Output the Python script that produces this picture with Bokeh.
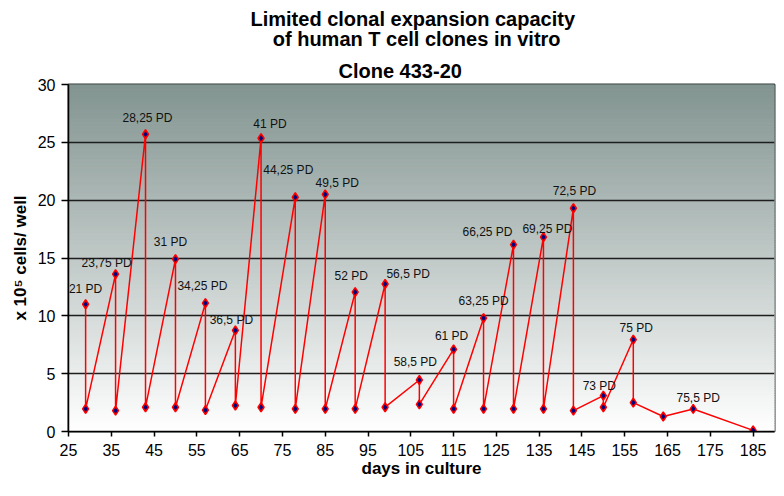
import numpy as np
from bokeh.plotting import figure
from bokeh.models import Range1d, FixedTicker, Title, ColumnDataSource
from bokeh.core.properties import value
from bokeh.embed import file_html
from bokeh.resources import INLINE

# ---- data ----
days = [29, 29, 36, 36, 43, 43, 50, 50, 57, 57, 64, 64, 70, 70, 78, 78, 85, 85,
        92, 92, 99, 99, 107, 107, 115, 115, 122, 122, 129, 129, 136, 136, 143, 143,
        150, 150, 157, 157, 164, 171, 185]
cells = [11.0, 1.95, 13.6, 1.8, 25.7, 2.1, 14.9, 2.1, 11.1, 1.85, 8.75, 2.25,
         25.35, 2.1, 20.25, 1.95, 20.5, 1.95, 12.05, 1.95, 12.75, 2.1, 4.45, 2.35,
         7.1, 1.95, 9.8, 1.95, 16.15, 1.95, 16.8, 1.95, 19.3, 1.8, 3.1, 2.1,
         7.95, 2.5, 1.3, 1.95, 0.1]
label_texts = ["21 PD", "23,75 PD", "28,25 PD", "31 PD", "34,25 PD", "36,5 PD",
               "41 PD", "44,25 PD", "49,5 PD", "52 PD", "56,5 PD", "58,5 PD",
               "61 PD", "63,25 PD", "66,25 PD", "69,25 PD", "72,5 PD", "73 PD",
               "75 PD", "75,5 PD"]
label_points = [0, 2, 4, 6, 8, 10, 12, 14, 16, 18, 20, 22, 24, 26, 28, 30, 32, 34, 36, 39]
x_ticks = [25, 35, 45, 55, 65, 75, 85, 95, 105, 115, 125, 135, 145, 155, 165, 175, 185]
y_ticks = [0, 5, 10, 15, 20, 25, 30]
main_title = "Limited clonal expansion capacity\n\u00a0\u00a0\u00a0\u00a0of human T cell clones in vitro"
sub_title = "Clone 433-20"

# label placement (pixel offsets from their point)
label_dx = [0, -9, 2, -5, -3, -4, 9, -7, 12, -4, 23, -4, -2, 0, -26, 4, 1, -4, 3, 5]
label_dy = [15, 11, 16, 17, 17, 10, 14, 27, 11, 16, 10, 18, 13, 17, 13, 8, 17, 10, 12, 11]

FONT = "Liberation Sans"
X0, X1, Y0, Y1 = 25, 190, 0, 30
W, H = 776, 480
BL, BR, BT, BB = 68, 2, 84, 48

p = figure(width=W, height=H, output_backend="svg", toolbar_location=None,
           x_range=Range1d(X0, X1), y_range=Range1d(Y0, Y1),
           min_border_left=BL, min_border_right=BR, min_border_top=BT, min_border_bottom=BB)
p.background_fill_color = "white"
p.border_fill_color = "white"
p.outline_line_color = "#2e3836"
p.outline_line_width = 2

# vertical gradient background of the plot area
n = 150
edges = np.linspace(Y0, Y1, n + 1)
t = (edges[:-1] + edges[1:]) / 2 / (Y1 - Y0)
top = np.array([130, 148, 144])
bot = np.array([255, 255, 255])
cols = ["#%02x%02x%02x" % tuple(int(round(c)) for c in bot * (1 - ti) + top * ti) for ti in t]
g = p.quad(left=X0, right=X1, bottom=edges[:-1], top=edges[1:], fill_color=cols,
           line_color=cols, line_width=1)
g.level = "image"

# grid
p.xgrid.visible = False
p.ygrid.ticker = FixedTicker(ticks=y_ticks)
p.ygrid.grid_line_color = "#1e1e1e"
p.ygrid.grid_line_width = 1.5

# data line + markers
src = ColumnDataSource(dict(x=days, y=cells))
p.line("x", "y", source=src, line_color="#ff0000", line_width=1.5)
p.scatter("x", "y", source=src, marker="diamond", size=9, fill_color="#000080",
          line_color="#ff0000", line_width=1.5)

# PD labels
lsrc = ColumnDataSource(dict(
    x=[days[i] for i in label_points],
    y=[cells[i] for i in label_points],
    text=label_texts,
    dx=label_dx,
    dy=[-d for d in label_dy],
))
p.text("x", "y", text="text", source=lsrc, x_offset="dx", y_offset="dy",
       text_align="center", text_baseline="middle", text_font=value(FONT),
       text_font_size="12px", text_color="#111111")

# axes
for ax, ticks in ((p.xaxis, x_ticks), (p.yaxis, y_ticks)):
    ax.ticker = FixedTicker(ticks=ticks)
    ax.axis_line_color = "black"
    ax.axis_line_width = 1.5
    ax.major_tick_line_color = "black"
    ax.major_tick_line_width = 1.5
    ax.major_tick_in = 0
    ax.minor_tick_line_color = None
    ax.major_label_text_font = FONT
    ax.major_label_text_font_size = "16px"
    ax.major_label_text_color = "black"
    ax.axis_label_text_font = FONT
    ax.axis_label_text_font_size = "17px"
    ax.axis_label_text_font_style = "bold"
    ax.axis_label_text_color = "black"

p.xaxis.major_tick_out = 5
p.xaxis.major_label_standoff = 7
p.xaxis.axis_label = "days in culture"
p.xaxis.axis_label_standoff = 0
p.yaxis.major_tick_out = 7
p.yaxis.major_label_standoff = 6
p.yaxis.axis_label = "x 10\u2075 cells/ well"
p.yaxis.axis_label_standoff = 5

# titles: stacked above the frame, nearest first (left-aligned, offset from frame left)
p.add_layout(Title(text=sub_title, align="left", offset=270, standoff=6,
                   text_font=FONT, text_font_style="bold", text_font_size="20px",
                   text_color="black"), "above")
p.add_layout(Title(text=main_title, align="left", offset=182, standoff=8,
                   text_font=FONT, text_font_style="bold", text_font_size="20px",
                   text_line_height=0.91, text_color="black"), "above")

open("out.html", "w").write(file_html(p, INLINE))
